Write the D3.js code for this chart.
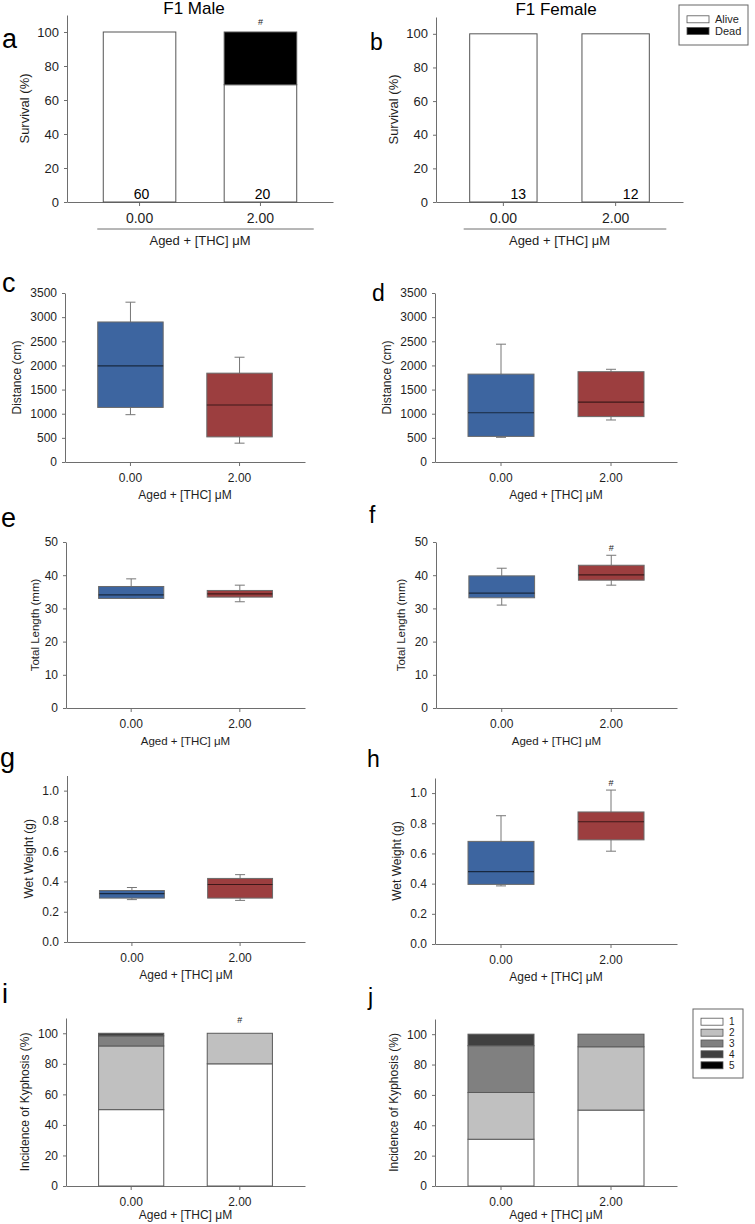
<!DOCTYPE html>
<html>
<head>
<meta charset="utf-8">
<script src="https://cdn.jsdelivr.net/npm/d3@7"></script>
<style>
  body { margin: 0; background: #fff; }
  svg { display: block; }
  text { font-family: "Liberation Sans", Arial, sans-serif; }
</style>
</head>
<body>
<svg id="fig" width="755" height="1224"></svg>
<script>
// ---- data ----
const groups = ["0.00", "2.00"];

// survival (%), n per group
const maleAlive = [100, 69];
const maleDead = [0, 31];
const femaleAlive = [100, 100];
const femaleDead = [0, 0];
const maleN = [60, 20];
const femaleN = [13, 12];

// box plots, each group: [min, q1, median, q3, max]
const distMale = [[980, 1130, 1990, 2900, 3310], [390, 520, 1180, 1840, 2170]];
const distFemale = [[510, 530, 1020, 1820, 2440], [870, 940, 1240, 1870, 1920]];
const lenMale = [[33, 33, 34.1, 36.6, 38.9], [32, 33.4, 34.4, 35.4, 37]];
const lenFemale = [[31, 33.2, 34.6, 39.8, 42.1], [37, 38.5, 40.1, 43, 46]];
const wtMale = [[0.28, 0.29, 0.32, 0.34, 0.36], [0.275, 0.29, 0.38, 0.42, 0.445]];
const wtFemale = [[0.385, 0.395, 0.48, 0.68, 0.85], [0.615, 0.69, 0.81, 0.875, 1.02]];

// kyphosis score incidence (%) per group, levels 1..5
const kyphLevels = ["1", "2", "3", "4", "5"];
const kyphMale = [[50, 41.7, 6.6, 1.7, 0], [80, 20, 0, 0, 0]];
const kyphFemale = [[30.8, 30.8, 30.8, 7.6, 0], [50, 41.7, 8.3, 0, 0]];

// significance (#) per group
const sigSurvMale = [false, true];
const sigLenFemale = [false, true];
const sigWtFemale = [false, true];
const sigKyphMale = [false, true];

// tick values
const pctTicks = [0, 20, 40, 60, 80, 100];
const distTicks = [0, 500, 1000, 1500, 2000, 2500, 3000, 3500];
const lenTicks = [0, 10, 20, 30, 40, 50];
const wtTicks = [0, 0.2, 0.4, 0.6, 0.8, 1.0];

const xTitle = "Aged + [THC] \u03bcM";

// ---- style ----
const axisCol = "#6e6e6e";
const textCol = "#1e1e1e";
const boxCols = ["#3d65a0", "#9c3e3f"];
const kyphCols = ["#ffffff", "#c0c0c0", "#808080", "#404040", "#000000"];

const svg = d3.select("#fig");

function frame(p) {
  const g = svg.append("g");
  const x = d3.scaleBand().domain(groups).range([p.x0, p.x1])
    .paddingInner(0.4).paddingOuter(0.3);
  const y = d3.scaleLinear().domain([0, p.yMax]).range([p.y0, p.y1]);
  const fs = p.fs || 12;

  const ya = g.append("g").attr("transform", `translate(${p.x0},0)`)
    .call(d3.axisLeft(y).tickValues(p.ticks).tickFormat(p.fmt || d3.format("d"))
      .tickSize(3).tickSizeOuter(0).tickPadding(5));
  const xa = g.append("g").attr("transform", `translate(0,${p.y0})`)
    .call(d3.axisBottom(x).tickSize(4).tickSizeOuter(0).tickPadding(7));
  [ya, xa].forEach(a => {
    a.select(".domain").attr("stroke", axisCol);
    a.selectAll(".tick line").attr("stroke", axisCol);
    a.selectAll("text").attr("fill", textCol).style("font-size", fs + "px")
      .style("font-family", '"Liberation Sans", Arial, sans-serif');
  });
  xa.selectAll("text").style("font-size", (p.xfs || fs) + "px");

  // y title, placed from the widest tick label
  let maxW = 0;
  ya.selectAll("text").each(function() { maxW = Math.max(maxW, this.getBBox().width); });
  const tx = p.x0 - 8 - maxW - (p.tgap || 13);
  const ty = (p.y0 + p.y1) / 2;
  g.append("text").attr("transform", `translate(${tx},${ty}) rotate(-90)`)
    .attr("text-anchor", "middle").attr("dy", "0.35em")
    .attr("fill", textCol).style("font-size", (p.tfs || fs) + "px").text(p.yTitle);

  // x title
  const cx = (x(groups[0]) + x(groups[1]) + x.bandwidth()) / 2;
  if (p.underline) {
    g.append("line")
      .attr("x1", x(groups[0]) - 6).attr("x2", x(groups[1]) + x.bandwidth() + 17)
      .attr("y1", p.y0 + 27).attr("y2", p.y0 + 27)
      .attr("stroke", axisCol).attr("stroke-width", 1);
  }
  g.append("text").attr("x", cx).attr("y", p.y0 + (p.xtDy || 37))
    .attr("text-anchor", "middle").attr("fill", textCol)
    .style("font-size", (p.tfs || fs) + "px").text(xTitle);

  // panel letter
  g.append("text").attr("x", p.lx).attr("y", p.ly).attr("fill", "#000")
    .style("font-size", p.lfs + "px").text(p.id);

  return {g, x, y};
}

function sigMark(g, xPos, yPos) {
  g.append("text").attr("x", xPos).attr("y", yPos).attr("text-anchor", "middle")
    .attr("fill", textCol).style("font-size", "9px").text("#");
}

function survival(p, alive, dead, n, sig) {
  const {g, x, y} = frame(p);
  const rows = groups.map((k, i) => ({group: k, alive: alive[i], dead: dead[i]}));
  const series = d3.stack().keys(["alive", "dead"])(rows);
  const fills = {alive: "#ffffff", dead: "#000000"};
  series.forEach(s => {
    g.append("g").selectAll("rect")
      .data(s.filter(d => d[1] - d[0] > 0))
      .join("rect")
      .attr("x", d => x(d.data.group))
      .attr("width", x.bandwidth())
      .attr("y", d => y(d[1]))
      .attr("height", d => y(d[0]) - y(d[1]))
      .attr("fill", fills[s.key]).attr("stroke", "#555").attr("stroke-width", 1);
  });
  g.selectAll(".nlab").data(groups).join("text").attr("class", "nlab")
    .attr("x", (d, i) => x(d) + x.bandwidth() / 2 + p.nDx)
    .attr("y", y(0) - 3).attr("text-anchor", "middle").attr("fill", "#000")
    .style("font-size", "14px").text((d, i) => n[i]);
  groups.forEach((k, i) => {
    if (sig[i]) sigMark(g, x(k) + x.bandwidth() / 2, y(alive[i] + dead[i]) - 7);
  });
}

function boxes(p, stats, sig) {
  const {g, x, y} = frame(p);
  const cap = 10;
  groups.forEach((k, i) => {
    const [mn, q1, md, q3, mx] = stats[i];
    const cx = x(k) + x.bandwidth() / 2;
    const wg = g.append("g").attr("stroke", "#777").attr("stroke-width", 1);
    wg.append("line").attr("x1", cx).attr("x2", cx).attr("y1", y(mx)).attr("y2", y(q3));
    wg.append("line").attr("x1", cx).attr("x2", cx).attr("y1", y(q1)).attr("y2", y(mn));
    wg.append("line").attr("x1", cx - cap / 2).attr("x2", cx + cap / 2).attr("y1", y(mx)).attr("y2", y(mx));
    wg.append("line").attr("x1", cx - cap / 2).attr("x2", cx + cap / 2).attr("y1", y(mn)).attr("y2", y(mn));
    g.append("rect").attr("x", x(k)).attr("width", x.bandwidth())
      .attr("y", y(q3)).attr("height", y(q1) - y(q3))
      .attr("fill", boxCols[i]).attr("stroke", "#6a6a6a").attr("stroke-width", 1);
    g.append("line").attr("x1", x(k)).attr("x2", x(k) + x.bandwidth())
      .attr("y1", y(md)).attr("y2", y(md))
      .attr("stroke", "#000").attr("stroke-opacity", 0.6).attr("stroke-width", 1.2);
    if (sig && sig[i]) sigMark(g, cx, y(mx) - 4);
  });
}

function kyphosis(p, levels, sig) {
  const {g, x, y} = frame(p);
  const rows = groups.map((k, i) => {
    const r = {group: k};
    kyphLevels.forEach((l, j) => { r[l] = levels[i][j]; });
    return r;
  });
  const series = d3.stack().keys(kyphLevels)(rows);
  series.forEach((s, j) => {
    g.append("g").selectAll("rect")
      .data(s.filter(d => d[1] - d[0] > 0))
      .join("rect")
      .attr("x", d => x(d.data.group))
      .attr("width", x.bandwidth())
      .attr("y", d => y(d[1]))
      .attr("height", d => y(d[0]) - y(d[1]))
      .attr("fill", kyphCols[j]).attr("stroke", "#5a5a5a").attr("stroke-width", 1);
  });
  if (sig) groups.forEach((k, i) => {
    if (sig[i]) sigMark(g, x(k) + x.bandwidth() / 2, y(100) - 10);
  });
}

function legend(x0, y0, w, h, items, cols, fs, rowY) {
  const g = svg.append("g");
  g.append("rect").attr("x", x0).attr("y", y0).attr("width", w).attr("height", h)
    .attr("fill", "#fff").attr("stroke", "#666").attr("stroke-width", 1);
  items.forEach((t, i) => {
    const cy = rowY[i];
    g.append("rect").attr("x", x0 + 8).attr("y", cy - 3.5).attr("width", 22).attr("height", 7)
      .attr("fill", cols[i]).attr("stroke", "#555").attr("stroke-width", 0.8);
    g.append("text").attr("x", x0 + 36).attr("y", cy).attr("dy", "0.35em")
      .attr("fill", textCol).style("font-size", fs + "px").text(t);
  });
}

// ---- layout ----
const L = 27, R = 23;

// titles
svg.append("text").attr("x", 194).attr("y", 14).attr("text-anchor", "middle")
  .style("font-size", "17px").attr("fill", "#000").text("F1 Male");
svg.append("text").attr("x", 556).attr("y", 15).attr("text-anchor", "middle")
  .style("font-size", "17px").attr("fill", "#000").text("F1 Female");

survival({id: "a", x0: 67, x1: 333, y0: 202, y1: 15, yMax: 110, ticks: pctTicks,
  yTitle: "Survival (%)", fs: 13, xfs: 14, tfs: 13, underline: true, xtDy: 43, nDx: 2,
  lx: 2, ly: 48, lfs: L}, maleAlive, maleDead, maleN, sigSurvMale);
survival({id: "b", x0: 436, x1: 683, y0: 202, y1: 17, yMax: 110, ticks: pctTicks,
  yTitle: "Survival (%)", fs: 13, xfs: 14, tfs: 13, underline: true, xtDy: 43, nDx: 15,
  lx: 370, ly: 50, lfs: R}, femaleAlive, femaleDead, femaleN, [false, false]);
legend(679, 5, 69, 40, ["Alive", "Dead"], ["#ffffff", "#000000"], 11, [19.3, 31]);

boxes({id: "c", x0: 65, x1: 305, y0: 462, y1: 293, yMax: 3500, ticks: distTicks,
  yTitle: "Distance (cm)", lx: 2, ly: 292, lfs: L}, distMale, null);
boxes({id: "d", x0: 435, x1: 677, y0: 462, y1: 293, yMax: 3500, ticks: distTicks,
  yTitle: "Distance (cm)", lx: 372, ly: 301, lfs: R}, distFemale, null);

boxes({id: "e", x0: 66, x1: 305, y0: 708, y1: 542, yMax: 50, ticks: lenTicks,
  yTitle: "Total Length (mm)", tfs: 11.5, tgap: 9, lx: 1, ly: 527, lfs: L}, lenMale, null);
boxes({id: "f", x0: 436, x1: 677, y0: 708, y1: 542, yMax: 50, ticks: lenTicks,
  yTitle: "Total Length (mm)", tfs: 11.5, lx: 369, ly: 523, lfs: R}, lenFemale, sigLenFemale);

boxes({id: "g", x0: 67, x1: 305, y0: 942, y1: 775.5, yMax: 1.1, ticks: wtTicks, fmt: d3.format(".1f"),
  yTitle: "Wet Weight (g)", lx: 0, ly: 767, lfs: L}, wtMale, null);
boxes({id: "h", x0: 435, x1: 677, y0: 944, y1: 778, yMax: 1.1, ticks: wtTicks, fmt: d3.format(".1f"),
  yTitle: "Wet Weight (g)", lx: 367, ly: 767, lfs: R}, wtFemale, sigWtFemale);

kyphosis({id: "i", x0: 66, x1: 305, y0: 1186, y1: 1018, yMax: 110, ticks: pctTicks,
  yTitle: "Incidence of Kyphosis (%)", xtDy: 33, lx: 2, ly: 1003, lfs: L}, kyphMale, sigKyphMale);
kyphosis({id: "j", x0: 435, x1: 677, y0: 1186, y1: 1019, yMax: 110, ticks: pctTicks,
  yTitle: "Incidence of Kyphosis (%)", xtDy: 33, lx: 368, ly: 1005, lfs: R}, kyphFemale, null);
legend(693, 1009, 50, 69, kyphLevels, kyphCols, 10, [1021.7, 1032.7, 1043.5, 1054.3, 1065.3]);
</script>
</body>
</html>
